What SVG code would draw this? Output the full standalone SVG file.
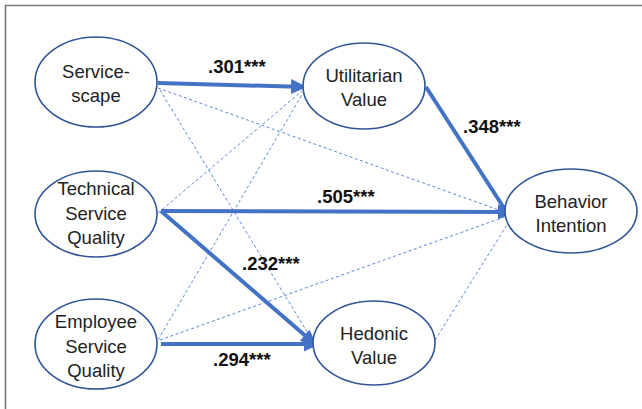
<svg xmlns="http://www.w3.org/2000/svg" width="642" height="409" viewBox="0 0 642 409">
<style>
.node{fill:#fff;stroke:#2f5597;stroke-width:1.6}
.nt{font-family:"Liberation Sans",Arial,sans-serif;font-size:18.5px;fill:#222;text-anchor:middle}
.lab{font-family:"Liberation Sans",Arial,sans-serif;font-size:18.5px;font-weight:bold;fill:#111}
.thick{stroke:#4472c4;stroke-width:4;fill:none}
.dash{stroke:#5a88da;stroke-width:1;stroke-dasharray:3 2.5;fill:none}
.frame{stroke:#777;stroke-width:1.6;fill:none}
</style>
<defs>
<marker id="ah" markerUnits="userSpaceOnUse" markerWidth="17" markerHeight="15" refX="15" refY="7.5" orient="auto">
<path d="M0,0 L16,7.5 L0,15 Z" fill="#4472c4"/>
</marker>
</defs>
<rect width="642" height="409" fill="#fff"/>
<path class="frame" d="M5.5,409 V5.5 H642"/>
<g id="connectors">
<line class="dash" x1="158" y1="88" x2="510" y2="214"/>
<line class="dash" x1="160" y1="90" x2="312" y2="340"/>
<line class="dash" x1="158" y1="213" x2="302" y2="91"/>
<line class="dash" x1="158" y1="340" x2="303" y2="93"/>
<line class="dash" x1="160" y1="340" x2="510" y2="215"/>
<line class="dash" x1="435" y1="340" x2="510" y2="220"/>
<line class="thick" x1="158" y1="83" x2="306" y2="87" marker-end="url(#ah)"/>
<line class="thick" x1="426" y1="87" x2="511" y2="219" marker-end="url(#ah)"/>
<line class="thick" x1="161" y1="211" x2="513" y2="212" marker-end="url(#ah)"/>
<line class="thick" x1="161" y1="211" x2="316" y2="345" marker-end="url(#ah)"/>
<line class="thick" x1="161" y1="344" x2="319" y2="344" marker-end="url(#ah)"/>
<text class="lab" x="208" y="73">.301***</text>
<text class="lab" x="463" y="133">.348***</text>
<text class="lab" x="317" y="203">.505***</text>
<text class="lab" x="242" y="270">.232***</text>
<text class="lab" x="213" y="366">.294***</text>
</g>
<g id="servicescape">
<ellipse class="node" cx="96" cy="82" rx="61" ry="45"/>
<text class="nt" x="96" y="78">Service-</text>
<text class="nt" x="96" y="102">scape</text>
</g>
<g id="technical">
<ellipse class="node" cx="96" cy="214" rx="61" ry="43"/>
<text class="nt" x="96" y="195">Technical</text>
<text class="nt" x="96" y="220">Service</text>
<text class="nt" x="96" y="244">Quality</text>
</g>
<g id="employee">
<ellipse class="node" cx="96" cy="344" rx="61" ry="45"/>
<text class="nt" x="96" y="328">Employee</text>
<text class="nt" x="96" y="353">Service</text>
<text class="nt" x="96" y="377">Quality</text>
</g>
<g id="utilitarian">
<ellipse class="node" cx="364" cy="86" rx="61" ry="43"/>
<text class="nt" x="364" y="82">Utilitarian</text>
<text class="nt" x="364" y="106">Value</text>
</g>
<g id="behavior">
<ellipse class="node" cx="571" cy="211" rx="66" ry="42"/>
<text class="nt" x="571" y="208">Behavior</text>
<text class="nt" x="571" y="232">Intention</text>
</g>
<g id="hedonic">
<ellipse class="node" cx="374" cy="343" rx="61" ry="42"/>
<text class="nt" x="374" y="340">Hedonic</text>
<text class="nt" x="374" y="364">Value</text>
</g>
</svg>
